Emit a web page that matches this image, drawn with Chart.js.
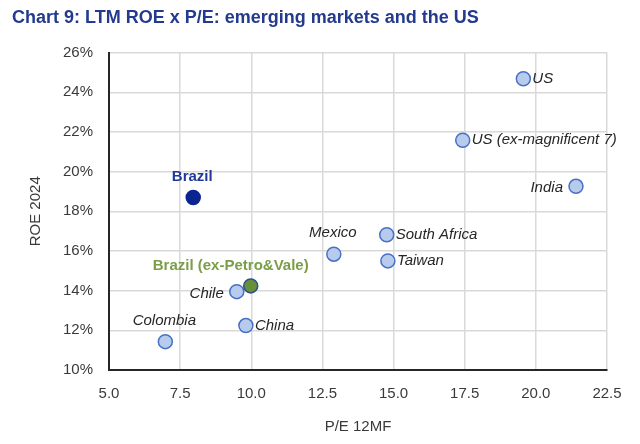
<!DOCTYPE html>
<html>
<head>
<meta charset="utf-8">
<script src="https://cdn.jsdelivr.net/npm/chart.js@4"></script>
<style>
	html, body { margin: 0; padding: 0; background: #ffffff; }
	#wrap { width: 640px; height: 444px; }
</style>
</head>
<body>
<div id="wrap"><canvas id="chart" width="640" height="444"></canvas></div>
<script>
// data
const countries = ['Colombia', 'China', 'Chile', 'Mexico', 'South Africa', 'Taiwan', 'India', 'US (ex-magnificent 7)', 'US', 'Brazil', 'Brazil (ex-Petro&Vale)'];
const peValues  = [6.98, 9.81, 9.49, 12.9, 14.76, 14.8, 21.41, 17.43, 19.56, 7.96, 9.98];
const roeValues = [11.43, 12.24, 13.95, 15.84, 16.82, 15.5, 19.26, 21.58, 24.68, 18.7, 14.24];
const xTicks = [5.0, 7.5, 10.0, 12.5, 15.0, 17.5, 20.0, 22.5];
const yTicks = [10, 12, 14, 16, 18, 20, 22, 24, 26];

const FONT = '"Liberation Sans", Arial, sans-serif';

// how each label sits next to its point
var labelPlace = {
	'Colombia': 'above',
	'China': 'right',
	'Chile': 'left',
	'Mexico': 'above',
	'South Africa': 'right',
	'Taiwan': 'right',
	'India': 'left',
	'US (ex-magnificent 7)': 'right',
	'US': 'right',
	'Brazil': 'above',
	'Brazil (ex-Petro&Vale)': 'aboveleft'
}

function fillFor(name){
	if(name == 'Brazil') return '#0b2590';
	if(name == 'Brazil (ex-Petro&Vale)') return '#66903a';
	return '#b7cbec';
}
function borderFor(name){
	if(name == 'Brazil') return '#0b2590';
	if(name == 'Brazil (ex-Petro&Vale)') return '#2f4f8f';
	return '#4a70c6';
}

var pointLabels = {
	id: 'pointLabels',
	afterDatasetsDraw: function(chart){
		var ctx = chart.ctx;
		var meta = chart.getDatasetMeta(0);
		ctx.save();
		meta.data.forEach(function(pt, i){
			var name = countries[i];
			var place = labelPlace[name];
			var x = pt.x, y = pt.y;
			if(name == 'Brazil'){
				ctx.font = 'bold 15px ' + FONT;
				ctx.fillStyle = '#1f3a9c';
			} else if(name == 'Brazil (ex-Petro&Vale)'){
				ctx.font = 'bold 15px ' + FONT;
				ctx.fillStyle = '#7a9e48';
			} else {
				ctx.font = 'italic 15px ' + FONT;
				ctx.fillStyle = '#262626';
			}
			ctx.textBaseline = 'middle';
			if(place == 'right'){
				ctx.textAlign = 'left';
				ctx.fillText(name, x + 9, y);
			} else if(place == 'left'){
				ctx.textAlign = 'right';
				ctx.fillText(name, x - 13, y + 2);
			} else if(place == 'above'){
				ctx.textAlign = 'center';
				ctx.fillText(name, x - 1, y - 21);
			} else {
				ctx.textAlign = 'center';
				ctx.fillText(name, x - 20, y - 20);
			}
		});
		ctx.restore();
	}
}

var points = countries.map(function(c, i){ return { x: peValues[i], y: roeValues[i] }; });

var config = {
	type: 'scatter',
	data: {
		datasets: [
			{
				data: points,
				pointRadius: 7,
				pointHoverRadius: 7,
				borderWidth: 1.5,
				pointBackgroundColor: countries.map(fillFor),
				pointBorderColor: countries.map(borderFor)
			}
		]
	},
	options: {
		responsive: false,
		animation: false,
		events: [],
		layout: {
			padding: { left: 12, right: 33, top: 0, bottom: 0 }
		},
		plugins: {
			legend: { display: false },
			tooltip: { enabled: false },
			title: {
				display: true,
				text: 'Chart 9: LTM ROE x P/E: emerging markets and the US',
				align: 'start',
				color: '#233a8f',
				font: { family: FONT, size: 18, weight: 'bold' },
				padding: { top: 7, bottom: 24 }
			}
		},
		scales: {
			x: {
				type: 'linear',
				min: 5,
				max: 22.5,
				afterBuildTicks: function(scale){ scale.ticks = xTicks.map(function(v){ return { value: v }; }); },
				afterFit: function(scale){ scale.height = 74; },
				ticks: {
					color: '#3a3a3a',
					font: { family: FONT, size: 15 },
					padding: 15,
					callback: function(v){ return Number(v).toFixed(1); }
				},
				grid: { color: '#d9d9d9', lineWidth: 1.5, drawTicks: false },
				border: { display: true, color: '#262626', width: 2 },
				title: {
					display: true,
					text: 'P/E 12MF',
					color: '#3a3a3a',
					font: { family: FONT, size: 15 },
					padding: { top: 0, bottom: 8 }
				}
			},
			y: {
				type: 'linear',
				min: 10,
				max: 26,
				afterBuildTicks: function(scale){ scale.ticks = yTicks.map(function(v){ return { value: v }; }); },
				afterFit: function(scale){ scale.width = 97; },
				ticks: {
					color: '#3a3a3a',
					font: { family: FONT, size: 15 },
					padding: 16,
					callback: function(v){ return v + '%'; }
				},
				grid: { color: '#d9d9d9', lineWidth: 1.5, drawTicks: false },
				border: { display: true, color: '#262626', width: 2 },
				title: {
					display: true,
					text: 'ROE 2024',
					color: '#3a3a3a',
					font: { family: FONT, size: 15 },
					padding: { top: 15, bottom: 0 }
				}
			}
		}
	},
	plugins: [pointLabels]
}

var chart = new Chart(document.getElementById('chart'), config);
</script>
</body>
</html>
